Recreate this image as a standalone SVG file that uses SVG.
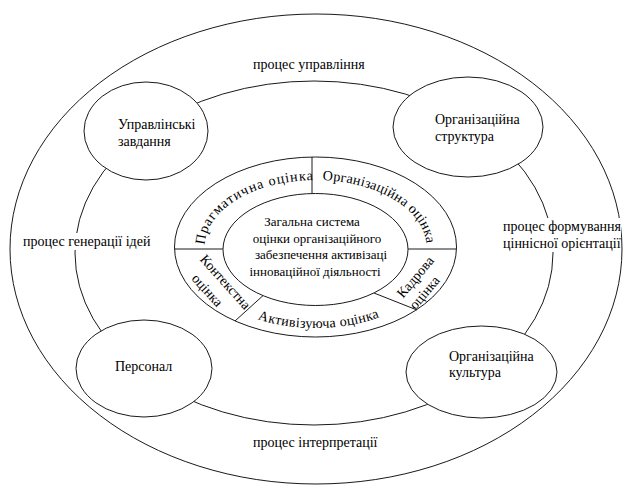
<svg xmlns="http://www.w3.org/2000/svg" width="624" height="486" viewBox="0 0 624 486">
<defs>
<path id="upperArc" d="M204.5,247 A111,67 0 0 1 426.5,247 A111,67 0 0 1 204.5,247"/>
<path id="lowerArc" d="M187.5,247 A128,81 0 0 0 443.5,247"/>
</defs>
<rect width="624" height="486" fill="#fff"/>

<g id="process-outer">
<ellipse fill="none" stroke="#1a1a1a" cx="316" cy="249" rx="306" ry="235"/>
</g>
<g id="process-middle">
<ellipse fill="none" stroke="#1a1a1a" cx="314" cy="253" rx="239" ry="172"/>
</g>

<g id="process-labels">
<text font-family="Liberation Serif" font-size="14" x="253" y="69">процес управління</text>
<rect x="21" y="233" width="129" height="17" fill="#fff"/>
<text font-family="Liberation Serif" font-size="14" x="23" y="246">процес генерації ідей</text>
<rect x="501" y="218" width="120" height="34" fill="#fff"/>
<text font-family="Liberation Serif" font-size="14" x="503" y="231">процес формування</text>
<text font-family="Liberation Serif" font-size="14" x="503" y="248">ціннісної орієнтації</text>
<text font-family="Liberation Serif" font-size="14" x="253" y="447">процес інтерпретації</text>
</g>

<g id="node-upravlinski">
<ellipse fill="#fff" stroke="#1a1a1a" cx="146" cy="131" rx="62" ry="49"/>
<text font-family="Liberation Serif" font-size="14" x="118" y="129">Управлінські</text>
<text font-family="Liberation Serif" font-size="14" x="118" y="146">завдання</text>
</g>
<g id="node-org-struktura">
<ellipse fill="#fff" stroke="#1a1a1a" cx="468" cy="127" rx="75" ry="50"/>
<text font-family="Liberation Serif" font-size="14" x="435" y="124">Організаційна</text>
<text font-family="Liberation Serif" font-size="14" x="435" y="141">структура</text>
</g>
<g id="node-personal">
<ellipse fill="#fff" stroke="#1a1a1a" cx="144" cy="368.5" rx="68" ry="48.5"/>
<text font-family="Liberation Serif" font-size="14" x="115" y="371">Персонал</text>
</g>
<g id="node-org-kultura">
<ellipse fill="#fff" stroke="#1a1a1a" cx="481.5" cy="372" rx="75.5" ry="46"/>
<text font-family="Liberation Serif" font-size="14" x="449" y="361">Організаційна</text>
<text font-family="Liberation Serif" font-size="14" x="449" y="377">культура</text>
</g>

<g id="node-assessment-ring">
<ellipse fill="#fff" stroke="#1a1a1a" cx="315.5" cy="247" rx="141" ry="90"/>
<text font-family="Liberation Serif" font-size="14" letter-spacing="1"><textPath href="#upperArc" startOffset="2">Прагматична оцінка</textPath></text>
<text font-family="Liberation Serif" font-size="14" letter-spacing="0.2"><textPath href="#upperArc" startOffset="149">Організаційна оцінка</textPath></text>
<text font-family="Liberation Serif" font-size="14" letter-spacing="0.3" text-anchor="middle"><textPath href="#lowerArc" startOffset="51%">Активізуюча оцінка</textPath></text>
<text font-family="Liberation Serif" font-size="14" text-anchor="middle" transform="translate(225.7,281.7) rotate(48)"><tspan x="0" y="5">Контекстна</tspan><tspan x="-6" y="24">оцінка</tspan></text>
<text font-family="Liberation Serif" font-size="14" text-anchor="middle" transform="translate(415,276.7) rotate(-50)"><tspan x="0" y="5">Кадрова</tspan><tspan x="-6" y="22">оцінка</tspan></text>
</g>

<g id="connectors" stroke="#1a1a1a">
<line x1="312" y1="157" x2="312" y2="193.6"/>
<line x1="174.5" y1="249" x2="223" y2="249"/>
<line x1="408" y1="249" x2="456.5" y2="249"/>
<line x1="263" y1="295.6" x2="235" y2="321"/>
<line x1="374" y1="293" x2="417" y2="310"/>
</g>

<g id="node-center">
<ellipse fill="#fff" stroke="#1a1a1a" cx="315.5" cy="249.5" rx="92.5" ry="56"/>
<text font-family="Liberation Serif" font-size="13" text-anchor="middle"><tspan x="312" y="226">Загальна система</tspan><tspan x="317" y="242.5">оцінки організаційного</tspan><tspan x="321" y="259">забезпечення активізаці</tspan><tspan x="315" y="275.5">інноваційної діяльності</tspan></text>
</g>
</svg>
